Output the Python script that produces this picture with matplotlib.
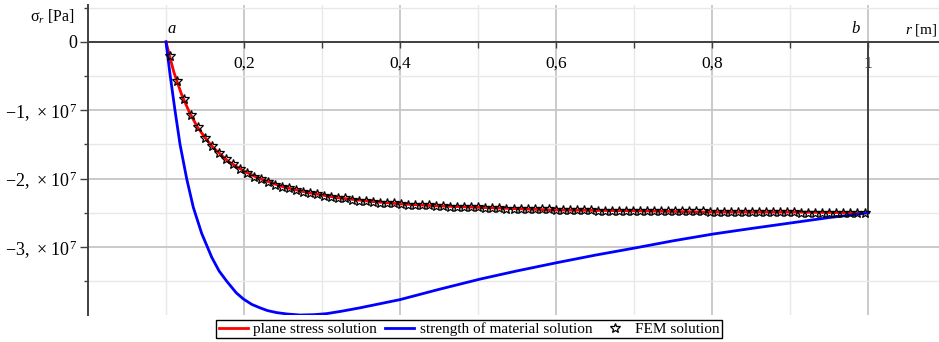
import numpy as np
import matplotlib
matplotlib.use('Agg')
import matplotlib.pyplot as plt
from matplotlib.ticker import FixedLocator, FixedFormatter

plt.rcParams['font.family'] = ['Liberation Serif', 'DejaVu Serif']
plt.rcParams['mathtext.fontset'] = 'custom'
plt.rcParams['mathtext.rm'] = 'Liberation Serif'
plt.rcParams['mathtext.it'] = 'Liberation Serif:italic'
plt.rcParams['mathtext.bf'] = 'Liberation Serif:bold'

# radial stress, values in units of 1e7 Pa
plane_r = [0.1, 0.11, 0.12, 0.13, 0.14, 0.15, 0.16, 0.18, 0.2, 0.22, 0.25, 0.28,
           0.32, 0.36, 0.4, 0.45, 0.5, 0.55, 0.6, 0.7, 0.8, 0.9, 1.0]
plane_sigma = [0.0, -0.44, -0.77, -1.03, -1.24, -1.40, -1.54, -1.75, -1.89, -2.00,
               -2.12, -2.20, -2.28, -2.33, -2.37, -2.40, -2.42, -2.44, -2.46, -2.47,
               -2.49, -2.49, -2.50]

som_r = [0.1, 0.105, 0.1115, 0.118, 0.1265, 0.135, 0.1457, 0.1586, 0.168, 0.1778,
         0.19, 0.1991, 0.21, 0.2205, 0.23, 0.2419, 0.255, 0.2718, 0.29, 0.306,
         0.325, 0.3487, 0.4, 0.45, 0.5026, 0.55, 0.6009, 0.65, 0.7034, 0.75,
         0.8017, 0.85, 0.9, 0.95, 0.9726, 1.0]
som_sigma = [0.0, -0.46, -1.00, -1.50, -2.00, -2.42, -2.80, -3.15, -3.35, -3.50,
             -3.67, -3.76, -3.84, -3.89, -3.93, -3.96, -3.98, -3.995, -3.99, -3.975,
             -3.94, -3.89, -3.77, -3.62, -3.47, -3.35, -3.23, -3.12, -3.01, -2.91,
             -2.81, -2.73, -2.65, -2.57, -2.54, -2.50]

# FEM element midpoints
fem_r = np.round(np.arange(0.1045, 1.0, 0.009), 4)
fem_sigma = [-0.21, -0.57, -0.84, -1.07, -1.25, -1.40, -1.52, -1.63, -1.71, -1.79,
             -1.86, -1.92, -1.97, -2.01, -2.05, -2.09, -2.12, -2.14, -2.17, -2.19,
             -2.21, -2.23, -2.25, -2.27, -2.28, -2.29, -2.31, -2.32, -2.33, -2.34,
             -2.35, -2.35, -2.36, -2.37, -2.38, -2.38, -2.39, -2.39, -2.40, -2.40,
             -2.41, -2.41, -2.42, -2.42, -2.42, -2.43, -2.43, -2.43, -2.44, -2.44,
             -2.44, -2.45, -2.45, -2.45, -2.45, -2.46, -2.46, -2.46, -2.46, -2.46,
             -2.46, -2.47, -2.47, -2.47, -2.47, -2.47, -2.47, -2.48, -2.48, -2.48,
             -2.48, -2.48, -2.48, -2.48, -2.48, -2.48, -2.48, -2.49, -2.49, -2.49,
             -2.49, -2.49, -2.49, -2.49, -2.49, -2.49, -2.49, -2.49, -2.49, -2.49,
             -2.50, -2.50, -2.50, -2.50, -2.50, -2.50, -2.50, -2.50, -2.50, -2.50]

x_major = [0.2, 0.4, 0.6, 0.8, 1.0]
x_labels = ['0,2', '0,4', '0,6', '0,8', '1']
x_minor = [0.1, 0.3, 0.5, 0.7, 0.9]
y_major = [0, -1, -2, -3]
y_labels = ['0', r'$\mathregular{-1,\,\times\,10^{7}}$',
            r'$\mathregular{-2,\,\times\,10^{7}}$', r'$\mathregular{-3,\,\times\,10^{7}}$']
y_minor = [0.5, -0.5, -1.5, -2.5, -3.5]

fig = plt.figure(figsize=(9.39, 3.42), dpi=100)
ax = fig.add_axes([88 / 939, 27 / 342, 1 - 88 / 939, 310 / 342])
ax.set_xlim(0, 1.091)
ax.set_ylim(-3.995, 0.54)

ax.xaxis.set_major_locator(FixedLocator(x_major))
ax.xaxis.set_major_formatter(FixedFormatter(x_labels))
ax.xaxis.set_minor_locator(FixedLocator(x_minor))
ax.yaxis.set_major_locator(FixedLocator(y_major))
ax.yaxis.set_major_formatter(FixedFormatter(y_labels))
ax.yaxis.set_minor_locator(FixedLocator(y_minor))

ax.grid(which='major', color='#c6c6c6', lw=1.3)
ax.grid(which='minor', color='#e8e8e8', lw=1.0)
ax.set_axisbelow(True)

for s in ['top', 'right']:
    ax.spines[s].set_visible(False)
ax.spines['bottom'].set_position(('data', 0))
ax.spines['bottom'].set_color('#404040')
ax.spines['bottom'].set_linewidth(1.4)
ax.spines['left'].set_color('#404040')
ax.spines['left'].set_linewidth(1.4)

ax.tick_params(axis='x', which='both', direction='out', length=4, width=1,
               color='#404040', labelsize=12.5, pad=6)
ax.tick_params(axis='y', which='major', direction='out', length=6, width=1,
               color='#404040', labelsize=13, pad=1.5)
ax.tick_params(axis='y', which='minor', direction='out', length=3, width=1,
               color='#404040')

# outer radius b
ax.plot([1.0, 1.0], [0, -2.5], color='#404040', lw=1.4, zorder=2)

ax.plot(plane_r, plane_sigma, color='#ff0000', lw=2, label='plane stress solution', zorder=3)
ax.plot(som_r, som_sigma, color='#0000ff', lw=2, label='strength of material solution', zorder=3)
ax.plot(fem_r, fem_sigma, ls='none', marker='*', ms=7.5, mfc='none', mec='black',
        mew=0.9, label='FEM solution', zorder=4)

ax.text(0.102, 0.07, 'a', fontsize=12, style='italic', ha='left', va='bottom')
ax.text(0.99, 0.07, 'b', fontsize=12, style='italic', ha='right', va='bottom')

fig.text(30 / 939, 1 - 17 / 342, r'σ$_{r}$ [Pa]', fontsize=11.5, ha='left', va='center')
fig.text(905 / 939, 1 - 30 / 342, r'$r$ [m]', fontsize=11, ha='left', va='center')

leg = fig.legend(loc='center', bbox_to_anchor=(0.4995, 0.038), ncol=3, fontsize=11,
                 frameon=True, fancybox=False, edgecolor='black', framealpha=1,
                 borderpad=0.15, handlelength=1.9, handletextpad=0.35,
                 columnspacing=0.55, borderaxespad=0)
leg.get_frame().set_linewidth(1.0)

fig.savefig('out.png', dpi=100)
